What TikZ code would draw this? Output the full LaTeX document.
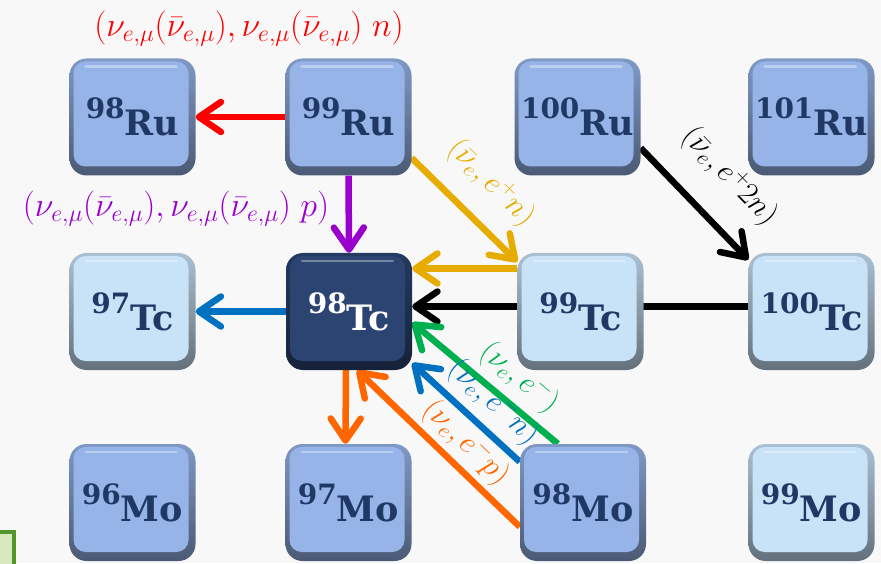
\RequirePackage{fix-cm}
\documentclass[tikz,border=0pt]{standalone}
\usepackage{fontspec}
\newfontfamily\isofont{DejaVu Serif}
\usepackage{tikz}
\usetikzlibrary{arrows.meta}
\definecolor{pagebg}{RGB}{248,248,248}
\definecolor{nucmid}{RGB}{150,180,232}
\definecolor{nuclight}{RGB}{200,226,248}
\definecolor{nucdark}{RGB}{43,68,114}
\definecolor{nuctext}{RGB}{31,56,100}
\definecolor{arrred}{RGB}{255,0,0}
\definecolor{arrpurple}{RGB}{153,0,204}
\definecolor{arryellow}{RGB}{230,172,0}
\definecolor{arrblue}{RGB}{0,112,192}
\definecolor{arrgreen}{RGB}{0,176,80}
\definecolor{arrorange}{RGB}{255,102,0}
\definecolor{fragfill}{RGB}{214,234,190}
\definecolor{fragedge}{RGB}{84,150,44}
\newcommand{\iso}[2]{\raisebox{17pt}{\fontsize{28}{28}\selectfont #1}#2}
\pgfdeclarelayer{back}
\pgfdeclarelayer{wires}
\pgfsetlayers{back,wires,main}

\begin{document}
\begin{tikzpicture}[x=1pt, y=1pt,
    nuc/.style={minimum width=126pt, minimum height=117pt, inner sep=0pt,
                rounded corners=17pt, top color=#1!85!black, bottom color=#1!50!black,
                text=nuctext, font=\isofont\bfseries\fontsize{35}{35}\selectfont,
                path picture={
                  \fill[#1, rounded corners=12pt]
                    ([shift={(4pt,9pt)}]path picture bounding box.south west) rectangle
                    ([shift={(-7pt,-3pt)}]path picture bounding box.north east);
                  \draw[white, opacity=0.35, line width=2.5pt, line cap=round]
                    ([shift={(16pt,-8pt)}]path picture bounding box.north west) --
                    ([shift={(-19pt,-8pt)}]path picture bounding box.north east);
                }},
    flow/.style={draw=#1, line width=6.5pt, -{Straight Barb[length=22pt, width=30pt, round]}},
    lbl/.style={font=\fontsize{34}{38}\selectfont, inner sep=0pt},
    tag/.style={font=\fontsize{31}{34}\selectfont, inner sep=0pt, sloped}
]
\begin{pgfonlayer}{back}
\fill[pagebg] (0,0) rectangle (881,563);
\end{pgfonlayer}
\useasboundingbox (0,0) rectangle (881,563);
\clip (0,0) rectangle (881,563);

% legend box cut by the page edge
\draw[fragedge, fill=fragfill, line width=3.5pt] (-10,-10) rectangle (14,31);

% Ru row
\node[nuc=nucmid] (r98) at (132.5,446) {\iso{98}{Ru}};
\node[nuc=nucmid] (r99) at (348.5,446) {\iso{99}{Ru}};
\node[nuc=nucmid] (r100) at (577.5,446) {\iso{100}{Ru}};
\node[nuc=nucmid] (r101) at (811.5,446) {\iso{101}{Ru}};
% Tc row
\node[nuc=nuclight] (t97) at (132.5,251.5) {\iso{97}{Tc}};
\node[nuc=nucdark, text=white] (t98) at (349,251.5) {\iso{98}{Tc}};
\node[nuc=nuclight] (t99) at (580.5,251.5) {\iso{99}{Tc}};
\node[nuc=nuclight] (t100) at (811.5,251.5) {\iso{100}{Tc}};
% Mo row
\node[nuc=nucmid] (m96) at (132.5,60.5) {\iso{96}{Mo}};
\node[nuc=nucmid] (m97) at (348.5,60.5) {\iso{97}{Mo}};
\node[nuc=nucmid] (m98) at (583,60.5) {\iso{98}{Mo}};
\node[nuc=nuclight] (m99) at (811.5,60.5) {\iso{99}{Mo}};

\node[lbl, text=arrred] (redlbl) at (249,534)
  {$(\nu_{e,\mu}(\bar\nu_{e,\mu}),\nu_{e,\mu}(\bar\nu_{e,\mu})\;n)$};
\node[lbl, text=arrpurple] (purplbl) at (176,354)
  {$(\nu_{e,\mu}(\bar\nu_{e,\mu}),\nu_{e,\mu}(\bar\nu_{e,\mu})\;p)$};

\begin{pgfonlayer}{wires}
\draw[flow=arrred] (r99.west) -- (r98.east);
\draw[flow=arrpurple] (r99.south) -- (t98.north);
\draw[flow=arryellow] ([yshift=-41]r99.east) --
  node[tag, above=19pt, pos=0.5, text=arryellow] {$(\bar\nu_e,e^+n)$} ([yshift=-9]t99.north west);
\draw[flow=arryellow] ([yshift=43]t99.west) -- ([yshift=43]t98.east);
\draw[flow=black] ([yshift=-31]r100.east) --
  node[tag, above=25pt, pos=0.53] {$(\bar\nu_e,e^+2n)$} ([yshift=-7]t100.north west);
\draw[flow=black] ([yshift=5]t100.west) -- ([yshift=5]t98.east);
\draw[flow=arrblue] (t98.west) -- (t97.east);
\draw[flow=arrgreen] ([xshift=38]m98.north west) --
  node[tag, above=7pt, pos=0.38, text=arrgreen] {$(\nu_e,e^-)$} ([yshift=-11]t98.east);
\draw[flow=arrblue] ([yshift=-18]m98.north west) --
  node[tag, above=7pt, pos=0.41, text=arrblue] {$(\nu_e,e^-n)$} ([yshift=7]t98.south east);
\draw[flow=arrorange] ([yshift=-83]m98.north west) --
  node[tag, above=4pt, pos=0.43, text=arrorange] {$(\nu_e,e^-p)$} ([xshift=8]t98.south);
\draw[flow=arrorange] ([xshift=-3]t98.south) -- ([xshift=-3]m97.north);
\end{pgfonlayer}
\end{tikzpicture}
\end{document}
